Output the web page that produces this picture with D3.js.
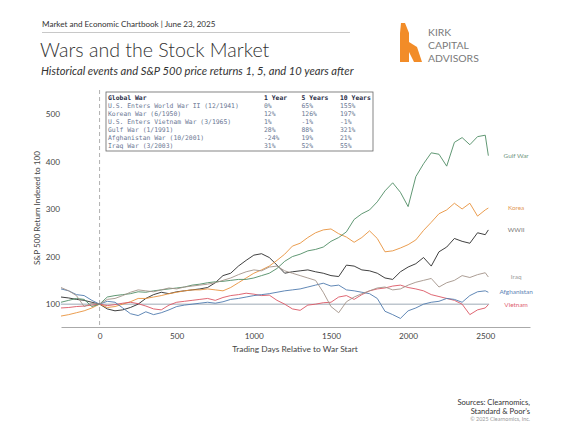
<!DOCTYPE html>
<html>
<head>
<meta charset="utf-8">
<script src="https://cdn.jsdelivr.net/npm/d3@7"></script>
<style>
  body { margin: 0; background: #fff; }
  text { font-family: Lato, "Open Sans", sans-serif; }
  .mono { font-family: "DejaVu Sans Mono", monospace; }
</style>
</head>
<body>
<div id="container"></div>
<script>
// sample days: every 50 trading days from -250 to 2500, plus the last day
var days = d3.range(-250, 2501, 50).concat([2520])

var seriesNames = ['WWII', 'Korea', 'Vietnam', 'Gulf War', 'Afghanistan', 'Iraq']

var wwii = [115, 113, 110, 108, 104, 100, 90, 86, 88, 93,
  100, 112, 120, 125, 122, 126, 128, 130, 132, 135,
  145, 160, 165, 180, 192, 203, 206, 198, 182, 165,
  168, 170, 172, 168, 165, 160, 158, 182, 180, 172,
  170, 165, 155, 152, 168, 178, 185, 198, 180, 210,
  220, 238, 232, 228, 250, 246, 256]

var korea = [75, 78, 82, 86, 92, 100, 93, 95, 100, 105,
  112, 112, 115, 118, 122, 125, 128, 130, 130, 132,
  130, 128, 135, 145, 155, 165, 172, 180, 192, 205,
  222, 228, 240, 250, 256, 258, 248, 241, 230, 240,
  254, 238, 210, 212, 218, 225, 235, 255, 272, 290,
  298, 312, 300, 312, 285, 298, 302]

var vietnam = [92, 93, 95, 96, 98, 100, 97, 99, 102, 104,
  101, 96, 90, 88, 98, 104, 106, 108, 110, 112,
  108, 114, 118, 120, 123, 121, 118, 119, 108, 100,
  90, 87, 98, 100, 103, 104, 115, 118, 110, 120,
  128, 132, 134, 138, 140, 135, 132, 128, 120, 116,
  112, 108, 100, 78, 88, 92, 99]

var gulf = [104, 108, 112, 110, 95, 100, 115, 118, 120, 122,
  126, 125, 128, 130, 132, 134, 136, 140, 142, 145,
  147, 148, 150, 152, 152, 155, 160, 165, 175, 190,
  200, 205, 212, 215, 220, 232, 240, 252, 278, 290,
  298, 315, 338, 355, 335, 305, 368, 395, 418, 415,
  390, 440, 450, 435, 452, 455, 412]

var afghanistan = [132, 128, 120, 118, 108, 100, 106, 104, 92, 80,
  76, 84, 78, 82, 88, 95, 98, 100, 102, 104,
  102, 105, 110, 112, 115, 118, 120, 122, 125, 128,
  130, 132, 136, 140, 144, 138, 140, 130, 128, 125,
  122, 112, 85, 78, 70, 86, 92, 100, 104, 106,
  112, 110, 104, 118, 126, 128, 125]

var iraq = [135, 128, 118, 95, 102, 100, 110, 112, 118, 125,
  130, 128, 126, 130, 134, 132, 136, 138, 140, 142,
  145, 150, 155, 162, 168, 172, 170, 178, 180, 170,
  165, 160, 155, 150, 125, 95, 82, 105, 115, 122,
  128, 134, 136, 130, 132, 140, 146, 150, 154, 136,
  145, 150, 160, 156, 162, 166, 157]

var seriesValues = [wwii, korea, vietnam, gulf, afghanistan, iraq]
var lineColours = ['#2a2a2a', '#e8923c', '#db5663', '#4f8c64', '#4f7bae', '#a39389']
var labelColours = ['#777', '#e39a5a', '#e06270', '#6f9580', '#5b82b4', '#9a9a9a']

// table of returns
var tableWars = ['U.S. Enters World War II (12/1941)', 'Korean War (6/1950)',
  'U.S. Enters Vietnam War (3/1965)', 'Gulf War (1/1991)',
  'Afghanistan War (10/2001)', 'Iraq War (3/2003)']
var ret1 = ['0%', '12%', '1%', '28%', '-24%', '31%']
var ret5 = ['65%', '126%', '-1%', '88%', '19%', '52%']
var ret10 = ['155%', '197%', '-1%', '321%', '21%', '55%']
var tableHead = ['Global War', '1 Year', '5 Years', '10 Years']

var xTicks = [0, 500, 1000, 1500, 2000, 2500]
var yTicks = [100, 200, 300, 400, 500]

var width = 576
var height = 432

var svg = d3.select('#container').append('svg')
  .attr('width', width)
  .attr('height', height)

/* header */
svg.append('text')
  .attr('x', 42).attr('y', 27)
  .style('font-size', '8.1px').style('fill', '#333')
  .text('Market and Economic Chartbook | June 23, 2025')

svg.append('line')
  .attr('x1', 42).attr('x2', 350).attr('y1', 32.5).attr('y2', 32.5)
  .style('stroke', '#c8c8c8').style('stroke-width', 1)

svg.append('text')
  .attr('x', 40).attr('y', 57)
  .style('font-size', '19.6px').style('font-weight', 300).style('fill', '#333')
  .text('Wars and the Stock Market')

svg.append('text')
  .attr('x', 41).attr('y', 75)
  .style('font-size', '11.2px').style('font-style', 'italic').style('fill', '#333')
  .text('Historical events and S&P 500 price returns 1, 5, and 10 years after')

/* logo */
var logo = svg.append('g')
logo.append('path')
  .attr('d', 'M401,23 L405,23 L409,33 L409,62 L400,62 L400,33 Z')
  .style('fill', '#f28c28')
logo.append('path')
  .attr('d', 'M409,42 L417,47 L422,62 L414,62 L409,52 Z')
  .style('fill', '#f28c28')
logo.selectAll('text.logo')
  .data(['KIRK', 'CAPITAL', 'ADVISORS'])
  .enter().append('text')
  .attr('x', 428)
  .attr('y', function (d, i) { return 35.5 + i * 13 })
  .style('font-size', '10.4px').style('fill', '#7a7a7a')
  .text(function (d) { return d })

/* chart */
var x = d3.scaleLinear().domain([-250, 2790]).range([61, 530])
var y = d3.scaleLinear().domain([52, 550]).range([327, 90])

var plot = svg.append('g')

plot.append('line')
  .attr('x1', x(0)).attr('x2', x(0)).attr('y1', y(550)).attr('y2', y(52))
  .style('stroke', '#b0b0b0').style('stroke-width', 1).style('stroke-dasharray', '4,3')

plot.append('line')
  .attr('x1', x(-250)).attr('x2', x(2525)).attr('y1', y(100)).attr('y2', y(100))
  .style('stroke', '#8593a3').style('stroke-width', 0.8)

var line = d3.line()
  .x(function (d, i) { return x(days[i]) })
  .y(function (d) { return y(d) })

plot.selectAll('path.series')
  .data(seriesValues)
  .enter().append('path')
  .attr('class', 'series')
  .attr('d', line)
  .style('fill', 'none')
  .style('stroke', function (d, i) { return lineColours[i] })
  .style('stroke-width', 0.9)
  .style('stroke-linejoin', 'round')

plot.selectAll('text.label')
  .data(seriesValues)
  .enter().append('text')
  .attr('x', x(2700))
  .attr('y', function (d) { return y(d[d.length - 1]) + 2 })
  .attr('text-anchor', 'middle')
  .style('font-size', '6.4px')
  .style('fill', function (d, i) { return labelColours[i] })
  .text(function (d, i) { return seriesNames[i] })

/* axes */
var xAxis = svg.append('g')
  .attr('transform', 'translate(0,' + y(52) + ')')
  .call(d3.axisBottom(x).tickValues(xTicks).tickFormat(d3.format('d')).tickSize(0).tickPadding(6))
xAxis.select('.domain').style('stroke', '#aaa')
xAxis.selectAll('text').style('font-size', '8.2px').style('fill', '#444')
  .style('font-family', 'Lato, sans-serif')

var yAxis = svg.append('g')
  .attr('transform', 'translate(61,0)')
  .call(d3.axisLeft(y).tickValues(yTicks).tickFormat(d3.format('d')).tickSize(0).tickPadding(1))
yAxis.select('.domain').remove()
yAxis.selectAll('text').style('font-size', '8.2px').style('fill', '#444')
  .style('font-family', 'Lato, sans-serif')

svg.append('text')
  .attr('x', 295).attr('y', 352)
  .attr('text-anchor', 'middle')
  .style('font-size', '8.4px').style('fill', '#444')
  .text('Trading Days Relative to War Start')

svg.append('text')
  .attr('transform', 'translate(40,208) rotate(-90)')
  .attr('text-anchor', 'middle')
  .style('font-size', '8.2px').style('fill', '#444')
  .text('S&P 500 Return Indexed to 100')

/* returns table */
var table = svg.append('g')
table.append('rect')
  .attr('x', 106).attr('y', 92).attr('width', 267).attr('height', 59)
  .style('fill', '#fff').style('fill-opacity', 0.9)
  .style('stroke', '#666').style('stroke-width', 0.8)

var colX = [108, 264, 301.5, 340]
table.selectAll('text.head')
  .data(tableHead)
  .enter().append('text')
  .attr('class', 'mono')
  .attr('x', function (d, i) { return colX[i] })
  .attr('y', 100)
  .style('font-size', '6.4px').style('font-weight', 'bold').style('fill', '#1f2a44')
  .text(function (d) { return d })

var rows = table.selectAll('g.row')
  .data(tableWars)
  .enter().append('g')
  .attr('transform', function (d, i) { return 'translate(0,' + (108 + i * 8) + ')' })

rows.each(function (d, i) {
  var cells = [d, ret1[i], ret5[i], ret10[i]]
  d3.select(this).selectAll('text')
    .data(cells)
    .enter().append('text')
    .attr('class', 'mono')
    .attr('x', function (c, j) { return colX[j] })
    .style('font-size', '6.4px').style('fill', '#6a7894')
    .text(function (c) { return c })
})

/* footer */
var foot = svg.append('g').attr('text-anchor', 'end')
foot.append('text').attr('x', 530).attr('y', 405)
  .style('font-size', '7.6px').style('fill', '#333').text('Sources: Clearnomics,')
foot.append('text').attr('x', 530).attr('y', 413.5)
  .style('font-size', '7.6px').style('fill', '#333').text('Standard & Poor\u2019s')
foot.append('text').attr('x', 530).attr('y', 421)
  .style('font-size', '5.4px').style('fill', '#999').text('\u00a9 2025 Clearnomics, Inc.')
</script>
</body>
</html>
